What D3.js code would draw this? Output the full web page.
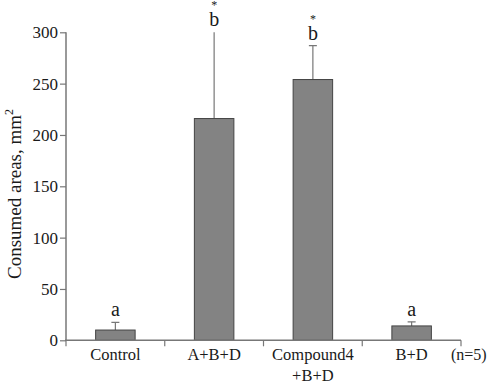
<!DOCTYPE html>
<html>
<head>
<meta charset="utf-8">
<script src="https://cdn.jsdelivr.net/npm/d3@7"></script>
<style>
  body { margin: 0; background: #fff; }
</style>
</head>
<body>
<svg id="chart"></svg>
<script>
// Data
const categories = ['Control', 'A+B+D', 'Compound4\n+B+D', 'B+D'];
const means = [10, 216, 254, 14];
const errTops = [17.5, 302, 287, 18];
const letters = ['a', 'b', 'b', 'a'];
const stars = [false, true, true, false];
const yTicks = [0, 50, 100, 150, 200, 250, 300];

const FONT = "'Liberation Serif', 'Times New Roman', serif";
const W = 488, H = 386;
const margin = { top: 32.3, right: 27, bottom: 45.7, left: 66 };
const width = W - margin.left - margin.right;
const height = H - margin.top - margin.bottom;

const svg = d3.select('#chart').attr('width', W).attr('height', H)
  .style('font-family', FONT);
const g = svg.append('g').attr('transform', `translate(${margin.left},${margin.top})`);

const x = d3.scaleBand().domain(d3.range(categories.length)).range([0, width]).paddingInner(0.6).paddingOuter(0.3);
const xb = d3.scaleBand().domain(d3.range(categories.length)).range([0, width]);
const y = d3.scaleLinear().domain([0, 300]).range([height, 0]);

g.append('clipPath').attr('id', 'clip')
  .append('rect').attr('x', -5).attr('y', 0).attr('width', width + 10).attr('height', height);

const axisColor = '#777';
const txt = sel => sel.style('font-family', FONT).attr('fill', '#1a1a1a');

// error bars
const err = g.append('g').attr('clip-path', 'url(#clip)').attr('stroke', axisColor).attr('stroke-width', 1.2);
categories.forEach((c, i) => {
  const cx = x(i) + x.bandwidth() / 2;
  err.append('line').attr('x1', cx).attr('x2', cx).attr('y1', y(means[i])).attr('y2', y(errTops[i]));
  err.append('line').attr('x1', cx - 4).attr('x2', cx + 4).attr('y1', y(errTops[i])).attr('y2', y(errTops[i]));
});

// bars
g.append('g').selectAll('rect').data(means).join('rect')
  .attr('x', (d, i) => x(i))
  .attr('y', d => y(d))
  .attr('width', x.bandwidth())
  .attr('height', d => y(0) - y(d))
  .attr('fill', '#838383')
  .attr('stroke', '#444')
  .attr('stroke-width', 1);

// significance letters
categories.forEach((c, i) => {
  const cx = x(i) + x.bandwidth() / 2;
  const ty = y(Math.min(errTops[i], 300)) - 6;
  g.append('text').attr('x', cx).attr('y', ty).attr('text-anchor', 'middle')
    .style('font-size', '20px').call(txt).text(letters[i]);
  if (stars[i]) {
    g.append('text').attr('x', cx).attr('y', ty - 17).attr('text-anchor', 'middle')
      .style('font-size', '12px').call(txt).text('*');
  }
});

// y axis
const yAxis = g.append('g').call(d3.axisLeft(y).tickValues(yTicks).tickSize(6).tickPadding(2));
yAxis.attr('font-family', null);
yAxis.select('.domain').attr('stroke', axisColor).attr('stroke-width', 1.5).attr('d', `M0,${height}V0`);
yAxis.selectAll('.tick line').attr('stroke', axisColor).attr('stroke-width', 1.2);
yAxis.selectAll('.tick text').style('font-size', '17px').call(txt);

// x axis
const xAxis = g.append('g').attr('transform', `translate(0,${height})`);
xAxis.append('line').attr('x1', -1).attr('x2', width).attr('stroke', axisColor).attr('stroke-width', 1.5);
xAxis.selectAll('.xt').data(d3.range(categories.length + 1)).join('line')
  .attr('x1', d => d === categories.length ? width : xb(d))
  .attr('x2', d => d === categories.length ? width : xb(d))
  .attr('y1', 0).attr('y2', 6)
  .attr('stroke', axisColor).attr('stroke-width', 1.2);
categories.forEach((c, i) => {
  const t = xAxis.append('text').attr('x', xb(i) + xb.bandwidth() / 2).attr('y', 19.5)
    .attr('text-anchor', 'middle').style('font-size', '16.5px').call(txt);
  c.split('\n').forEach((line, k) => {
    t.append('tspan').attr('x', xb(i) + xb.bandwidth() / 2).attr('dy', k === 0 ? 0 : 21).text(line);
  });
});
xAxis.append('text').attr('x', width - 10).attr('y', 19.5).style('font-size', '16px').call(txt).text('(n=5)');

// y label
svg.append('text')
  .attr('transform', `translate(21,194) rotate(-90)`)
  .attr('text-anchor', 'middle').style('font-size', '19px').call(txt)
  .text('Consumed areas, mm')
  .append('tspan').attr('dy', -8).style('font-size', '12px').text('2');
</script>
</body>
</html>
